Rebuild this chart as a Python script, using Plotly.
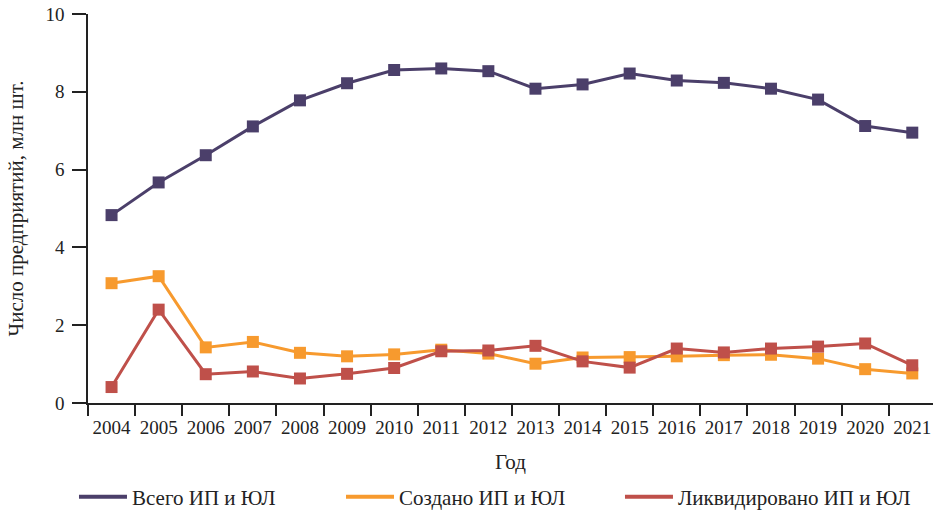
import plotly.graph_objects as go

years = ["2004", "2005", "2006", "2007", "2008", "2009", "2010", "2011", "2012",
         "2013", "2014", "2015", "2016", "2017", "2018", "2019", "2020", "2021"]
total = [4.83, 5.67, 6.37, 7.11, 7.78, 8.22, 8.56, 8.60, 8.53,
         8.08, 8.19, 8.47, 8.29, 8.23, 8.08, 7.80, 7.12, 6.95]
created = [3.08, 3.26, 1.43, 1.57, 1.29, 1.20, 1.25, 1.37, 1.27,
           1.01, 1.17, 1.18, 1.20, 1.23, 1.24, 1.14, 0.87, 0.76]
liquidated = [0.41, 2.40, 0.74, 0.81, 0.63, 0.75, 0.90, 1.33, 1.35,
              1.47, 1.07, 0.91, 1.40, 1.30, 1.40, 1.45, 1.53, 0.97]

names = ["Всего ИП и ЮЛ", "Создано ИП и ЮЛ", "Ликвидировано ИП и ЮЛ"]
colors = ["#4b3f6a", "#f79a2e", "#bf504a"]
series = [total, created, liquidated]

FONT = "Liberation Serif"
TXT = "#222222"
fig = go.Figure()

for vals, name, col in zip(series, names, colors):
    fig.add_trace(go.Scatter(
        x=years, y=vals, mode="lines+markers", name=name,
        line=dict(color=col, width=3),
        marker=dict(symbol="square", size=12, color=col),
        showlegend=False, hoverinfo="x+y+name"))

legend_ids = ["legend", "legend2", "legend3"]
for name, col, lid in zip(names, colors, legend_ids):
    fig.add_trace(go.Scatter(
        x=[None], y=[None], mode="lines", name=name,
        line=dict(color=col, width=4), showlegend=True, legend=lid))

leg_x = [0.0793, 0.3655, 0.6645]
legend_common = dict(orientation="h", xref="container", yref="container",
                     yanchor="middle", y=0.0368, xanchor="left",
                     font=dict(family=FONT, size=21, color=TXT),
                     itemwidth=48, bgcolor="rgba(0,0,0,0)")

fig.update_layout(
    width=933, height=516,
    margin=dict(l=88, r=0, t=14, b=113),
    paper_bgcolor="white", plot_bgcolor="white",
    font=dict(family=FONT, size=19, color=TXT),
    legend=dict(x=leg_x[0], **legend_common),
    legend2=dict(x=leg_x[1], **legend_common),
    legend3=dict(x=leg_x[2], **legend_common),
    xaxis=dict(
        type="category", range=[-0.5, 17.44], automargin=False,
        tickson="boundaries", ticks="outside", ticklen=11, tickwidth=1.5,
        tickangle=0, ticklabelstandoff=6, ticklabeloverflow="allow",
        tickcolor=TXT, showline=True, linecolor=TXT, linewidth=1.5,
        showgrid=False, zeroline=False,
        tickfont=dict(family=FONT, size=19, color=TXT),
        title=dict(text="Год", font=dict(family=FONT, size=21, color=TXT),
                   standoff=18),
    ),
    yaxis=dict(
        range=[0, 10], tickvals=[0, 2, 4, 6, 8, 10], automargin=False,
        ticks="outside", ticklen=14, tickwidth=1.5, tickcolor=TXT,
        ticklabelstandoff=4, ticklabeloverflow="allow",
        showline=True, linecolor=TXT, linewidth=1.5,
        showgrid=False, zeroline=False,
        tickfont=dict(family=FONT, size=19, color=TXT),
        title=dict(text="Число предприятий, млн шт.",
                   font=dict(family=FONT, size=21, color=TXT),
                   standoff=16),
    ),
)

# remove the default page margin so the figure fills the window exactly
fig.write_html("out.html",
               config={"displayModeBar": False},
               post_script="document.body.style.margin='0';document.body.style.overflow='hidden';")
